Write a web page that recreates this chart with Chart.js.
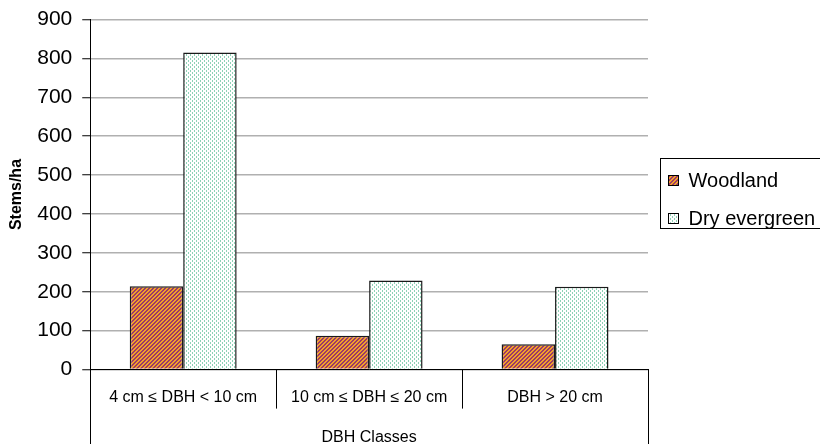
<!DOCTYPE html>
<html>
<head>
<meta charset="utf-8">
<script src="https://cdn.jsdelivr.net/npm/chart.js@4"></script>
<style>
  html, body { margin: 0; padding: 0; background: #fff; }
  #chartDiv { display: block; }
</style>
</head>
<body>
<canvas id="chartDiv" width="820" height="444"></canvas>
<script>
const categories = ["4 cm \u2264 DBH < 10 cm", "10 cm \u2264 DBH \u2264 20 cm", "DBH > 20 cm"];
const woodland = [214, 87, 65];
const dryEvergreen = [815, 229, 213];
const yTicks = [0, 100, 200, 300, 400, 500, 600, 700, 800, 900];

const FONT = "'Liberation Sans', Arial, sans-serif";

// little tiles for the excel-ish fill patterns
function makePattern(w, h, bg, fg, test) {
  const c = document.createElement("canvas");
  c.width = w;
  c.height = h;
  const ctx = c.getContext("2d");
  ctx.fillStyle = bg;
  ctx.fillRect(0, 0, w, h);
  ctx.fillStyle = fg;
  for (let y = 0; y < h; y++) {
    for (let x = 0; x < w; x++) {
      if (test(x, y)) ctx.fillRect(x, y, 1, 1);
    }
  }
  return ctx.createPattern(c, "repeat");
}
const ctx0 = document.getElementById("chartDiv").getContext("2d");
const woodFill = makePattern(4, 4, "#F2A12A", "#9C3A66", (x, y) => ((x + y) & 2) === 0);
const dryFill = makePattern(4, 4, "#ffffff", "#8ED2B6", (x, y) => (x === 0 && y < 2) || (x === 2 && y >= 2));

const fillsByLabel = { Woodland: woodFill, "Dry evergreen": dryFill };

// separators under the x axis + legend with a frame
const extras = {
  id: "extras",
  afterDraw(chart) {
    const ctx = chart.ctx;
    const xs = chart.scales.x;
    const area = chart.chartArea;
    ctx.save();
    ctx.strokeStyle = "#000";
    ctx.lineWidth = 1;
    for (let i = 0; i <= categories.length; i++) {
      const x = Math.round(xs.getPixelForValue(i - 0.5)) + 0.5;
      const outer = i === 0 || i === categories.length;
      ctx.beginPath();
      ctx.moveTo(x, area.bottom);
      ctx.lineTo(x, outer ? chart.height : area.bottom + 39);
      ctx.stroke();
    }

    // legend
    const lx = area.right + 12.5;
    const lh = 70;
    const ly = Math.round((area.top + area.bottom) / 2 - lh / 2) - 1.5;
    ctx.strokeRect(lx, ly, 200, lh);
    ctx.font = "20px " + FONT;
    ctx.textBaseline = "middle";
    chart.data.datasets.forEach((ds, i) => {
      const cy = ly + 22 + i * 38;
      ctx.fillStyle = fillsByLabel[ds.label];
      ctx.fillRect(lx + 8, cy - 5, 10, 10);
      ctx.strokeStyle = "#000";
      ctx.strokeRect(lx + 8, cy - 5, 10, 10);
      ctx.fillStyle = "#000";
      ctx.fillText(ds.label, lx + 28, cy + 1);
    });
    ctx.restore();
  },
};

const chart = new Chart(ctx0, {
  type: "bar",
  data: {
    labels: categories,
    datasets: [
      {
        label: "Woodland",
        data: woodland,
        backgroundColor: woodFill,
        borderColor: "#1a1a1a",
        borderWidth: 1.5,
      },
      {
        label: "Dry evergreen",
        data: dryEvergreen,
        backgroundColor: dryFill,
        borderColor: "#1a1a1a",
        borderWidth: 1.5,
      },
    ],
  },
  options: {
    responsive: false,
    animation: false,
    devicePixelRatio: 1,
    layout: { padding: { left: 5, right: 172, top: 0, bottom: -3 } },
    datasets: { bar: { categoryPercentage: 0.575, barPercentage: 1 } },
    plugins: { legend: { display: false }, tooltip: { enabled: false } },
    scales: {
      x: {
        grid: { display: false, drawTicks: false },
        border: { display: true, color: "#000", width: 1 },
        ticks: { color: "#000", font: { family: FONT, size: 16 }, padding: 18, maxRotation: 0 },
        title: {
          display: true,
          text: "DBH Classes",
          color: "#000",
          font: { family: FONT, size: 16 },
          padding: { top: 3, bottom: 0 },
        },
      },
      y: {
        min: 0,
        max: 900,
        afterBuildTicks: (s) => { s.ticks = yTicks.map((v) => ({ value: v })); },
        grid: { color: "#b0b0b0", lineWidth: 1.5, tickColor: "#000", tickLength: 8, tickWidth: 1 },
        border: { display: true, color: "#000", width: 1 },
        ticks: { color: "#000", font: { family: FONT, size: 21, lineHeight: 0.9 }, padding: 10 },
        title: {
          display: true,
          text: "Stems/ha",
          color: "#000",
          font: { family: FONT, size: 16, weight: "bold" },
          padding: { top: 2, bottom: 1 },
        },
      },
    },
  },
  plugins: [extras],
});
</script>
</body>
</html>
